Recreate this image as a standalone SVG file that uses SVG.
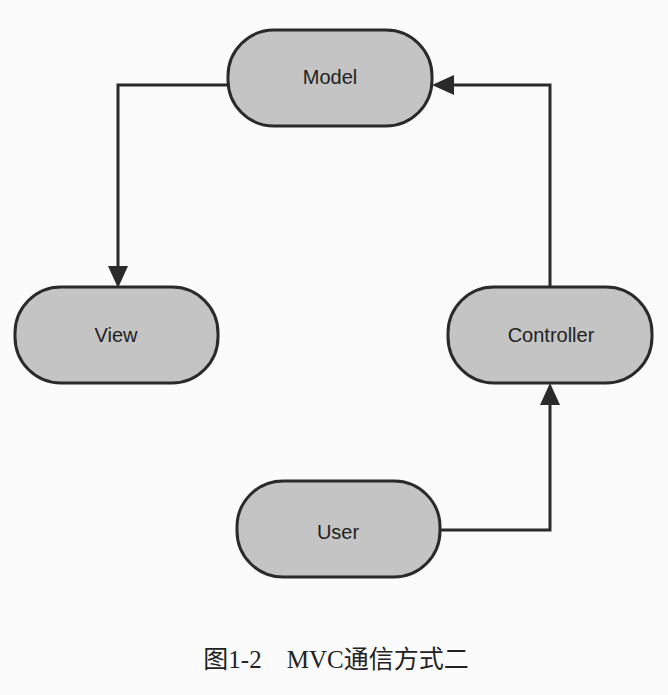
<svg xmlns="http://www.w3.org/2000/svg" width="668" height="695" viewBox="0 0 668 695">
<style>
.n{fill:#c4c4c4;stroke:#2a2a2a;stroke-width:3}
.t{font-family:"Liberation Sans",Arial,sans-serif;font-size:20px;fill:#222;text-anchor:middle}
.c{fill:none;stroke:#2a2a2a;stroke-width:3}
</style>
<defs><marker id="a" viewBox="0 0 10 10" refX="10" refY="5" markerWidth="7" markerHeight="7" orient="auto" markerUnits="userSpaceOnUse" style="overflow:visible"><path d="M0,0 L10,5 L0,10 z" fill="#2a2a2a" transform="scale(2.2) translate(-5.5,-0)"/></marker></defs>
<rect width="668" height="695" fill="#fbfbfb"/>
<g id="connectors">
<path class="c" d="M228,85 H118 V268"/>
<polygon points="108,266 128,266 118,288" fill="#2a2a2a"/>
<path class="c" d="M550,286 V85 H452"/>
<polygon points="454,75 454,95 432,85" fill="#2a2a2a"/>
<path class="c" d="M440,530 H550 V403"/>
<polygon points="540,405 560,405 550,383" fill="#2a2a2a"/>
</g>
<g id="model"><rect class="n" x="228" y="30" width="204" height="96" rx="46"/><text class="t" x="330" y="84">Model</text></g>
<g id="view"><rect class="n" x="15" y="287" width="203" height="96" rx="46"/><text class="t" x="116" y="342">View</text></g>
<g id="controller"><rect class="n" x="448" y="287" width="204" height="96" rx="46"/><text class="t" x="551" y="342">Controller</text></g>
<g id="user"><rect class="n" x="237" y="481" width="203" height="96" rx="46"/><text class="t" x="338" y="539">User</text></g>
<text x="336" y="668" font-family="'Liberation Serif','Noto Sans CJK SC',serif" font-size="25" fill="#222" text-anchor="middle">图1-2　MVC通信方式二</text>
</svg>
